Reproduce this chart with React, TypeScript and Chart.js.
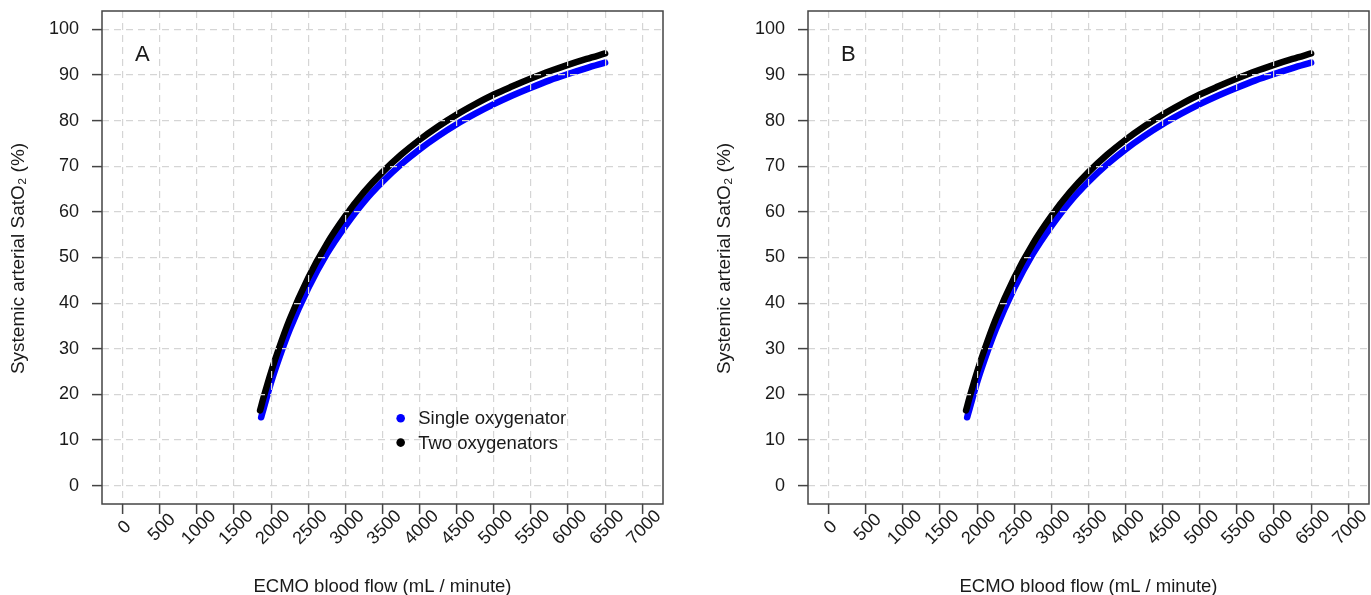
import React, { useEffect, useRef } from "react";
import { Chart, registerables } from "chart.js";

Chart.register(...registerables);

// ---- data ----
const flowSingle = [1865, 1900, 2000, 2100, 2250, 2500, 2750, 3000, 3250, 3500, 3750, 4000, 4250, 4500, 4750, 5000, 5250, 5500, 5750, 6000, 6250, 6500];
const satSingle = [15.0, 17.0, 22.7, 27.6, 34.2, 43.3, 50.8, 56.9, 62.2, 66.6, 70.4, 73.7, 76.6, 79.2, 81.5, 83.6, 85.5, 87.2, 88.8, 90.2, 91.5, 92.7];
const flowTwo = [1850, 1900, 2000, 2100, 2250, 2500, 2750, 3000, 3250, 3500, 3750, 4000, 4250, 4500, 4750, 5000, 5250, 5500, 5750, 6000, 6250, 6500];
const satTwo = [16.5, 19.5, 25.0, 29.9, 36.5, 45.6, 53.0, 59.1, 64.3, 68.7, 72.5, 75.8, 78.7, 81.3, 83.6, 85.7, 87.5, 89.2, 90.8, 92.2, 93.5, 94.7];

const seriesLabels = ["Single oxygenator", "Two oxygenators"];
const seriesColors = ["#0000ff", "#000000"];
const xTickValues = [0, 500, 1000, 1500, 2000, 2500, 3000, 3500, 4000, 4500, 5000, 5500, 6000, 6500, 7000];
const yTickValues = [0, 10, 20, 30, 40, 50, 60, 70, 80, 90, 100];
const xTitle = "ECMO blood flow (mL / minute)";
const yTitle = "Systemic arterial SatO₂ (%)";
const panelLetters = ["A", "B"];

const FONT = "'Liberation Sans', Arial, Helvetica, sans-serif";
const CANVAS_W = 706;
const CANVAS_H = 595;

const decorPlugin = {
  id: "decor",
  afterDraw(chart: any, _args: any, opts: any) {
    const { ctx, chartArea: ca, scales } = chart;
    const xs = scales.x;
    const ys = scales.y;
    ctx.save();
    // plot box
    ctx.strokeStyle = "#444444";
    ctx.lineWidth = 1.5;
    ctx.strokeRect(ca.left, ca.top, ca.right - ca.left, ca.bottom - ca.top);

    // rotated x tick labels
    ctx.fillStyle = "#1a1a1a";
    ctx.font = `18px ${FONT}`;
    ctx.textAlign = "center";
    ctx.textBaseline = "middle";
    xTickValues.forEach((v) => {
      const px = xs.getPixelForValue(v) + 2;
      ctx.save();
      ctx.translate(px, ca.bottom + 23.5);
      ctx.rotate(-Math.PI / 4);
      ctx.fillText(String(v), 0, 0);
      ctx.restore();
    });

    // x title
    ctx.font = `18.5px ${FONT}`;
    ctx.fillText(xTitle, (ca.left + ca.right) / 2, 587);

    // y title
    ctx.save();
    ctx.translate(18.5, (ca.top + ca.bottom) / 2 + 1);
    ctx.rotate(-Math.PI / 2);
    ctx.font = `19px ${FONT}`;
    ctx.fillText(yTitle, 0, 0);
    ctx.restore();

    // panel letter
    ctx.font = `22px ${FONT}`;
    ctx.fillText(opts.letter, xs.getPixelForValue(265), ys.getPixelForValue(94.4));

    // legend
    if (opts.legend) {
      const lx = xs.getPixelForValue(3745);
      const ly = ys.getPixelForValue(14.8);
      seriesLabels.forEach((lab, i) => {
        const y = ly + i * 24.4;
        ctx.beginPath();
        ctx.fillStyle = seriesColors[i];
        ctx.arc(lx, y, 4.3, 0, Math.PI * 2);
        ctx.fill();
        ctx.fillStyle = "#1a1a1a";
        ctx.font = `18.5px ${FONT}`;
        ctx.textAlign = "left";
        ctx.fillText(lab, lx + 17.5, y + 1);
      });
    }
    ctx.restore();
  },
};

function Panel({ letter, legend, left }: { letter: string; legend: boolean; left: number }) {
  const ref = useRef<HTMLCanvasElement>(null);
  useEffect(() => {
    const chart = new Chart(ref.current as HTMLCanvasElement, {
      type: "line",
      data: {
        datasets: [
          {
            label: seriesLabels[0],
            data: flowSingle.map((x, i) => ({ x, y: satSingle[i] })),
            borderColor: seriesColors[0],
            backgroundColor: seriesColors[0],
            borderWidth: 6.5,
            pointRadius: 0,
            borderCapStyle: "round",
            borderJoinStyle: "round",
            cubicInterpolationMode: "monotone",
            fill: false,
            order: 2,
          },
          {
            label: seriesLabels[1],
            data: flowTwo.map((x, i) => ({ x, y: satTwo[i] })),
            borderColor: seriesColors[1],
            backgroundColor: seriesColors[1],
            borderWidth: 6.5,
            pointRadius: 0,
            borderCapStyle: "round",
            borderJoinStyle: "round",
            cubicInterpolationMode: "monotone",
            fill: false,
            order: 1,
          },
        ],
      },
      options: {
        responsive: false,
        animation: false,
        devicePixelRatio: 1,
        layout: { padding: { top: 11, right: CANVAS_W - 663, bottom: 0, left: 0 } },
        plugins: {
          legend: { display: false },
          tooltip: { enabled: false },
          decor: { letter, legend },
        } as any,
        scales: {
          x: {
            type: "linear",
            min: -280,
            max: 7280,
            afterBuildTicks: (s: any) => {
              s.ticks = xTickValues.map((v) => ({ value: v }));
            },
            afterFit: (s: any) => {
              s.height = 91;
              s.paddingLeft = 0;
              s.paddingRight = 0;
            },
            ticks: { display: false, includeBounds: false },
            grid: {
              z: 1,
              color: "#d5d5d5",
              lineWidth: 1.2,
              tickLength: 10,
              tickColor: "#444444",
              tickWidth: 1.5,
              tickBorderDash: [],
            },
            border: { display: false, dash: [7, 5] },
          },
          y: {
            type: "linear",
            min: -4,
            max: 104,
            afterBuildTicks: (s: any) => {
              s.ticks = yTickValues.map((v) => ({ value: v }));
            },
            afterFit: (s: any) => {
              s.width = 102;
              s.paddingTop = 0;
              s.paddingBottom = 0;
            },
            ticks: {
              includeBounds: false,
              padding: 13,
              color: "#1a1a1a",
              font: { family: FONT, size: 18 },
            },
            grid: {
              z: 1,
              color: "#d5d5d5",
              lineWidth: 1.2,
              tickLength: 10,
              tickColor: "#444444",
              tickWidth: 1.5,
              tickBorderDash: [],
            },
            border: { display: false, dash: [7, 5] },
          },
        },
      } as any,
      plugins: [decorPlugin as any],
    });
    return () => chart.destroy();
  }, [letter, legend]);
  return (
    <canvas
      ref={ref}
      width={CANVAS_W}
      height={CANVAS_H}
      style={{ position: "absolute", left, top: 0, width: CANVAS_W, height: CANVAS_H }}
    />
  );
}

export default function App() {
  return (
    <div
      style={{
        position: "absolute",
        left: 0,
        top: 0,
        width: 1371,
        height: 595,
        overflow: "hidden",
        background: "#ffffff",
      }}
    >
      <Panel letter={panelLetters[0]} legend={true} left={0} />
      <Panel letter={panelLetters[1]} legend={false} left={706} />
    </div>
  );
}
